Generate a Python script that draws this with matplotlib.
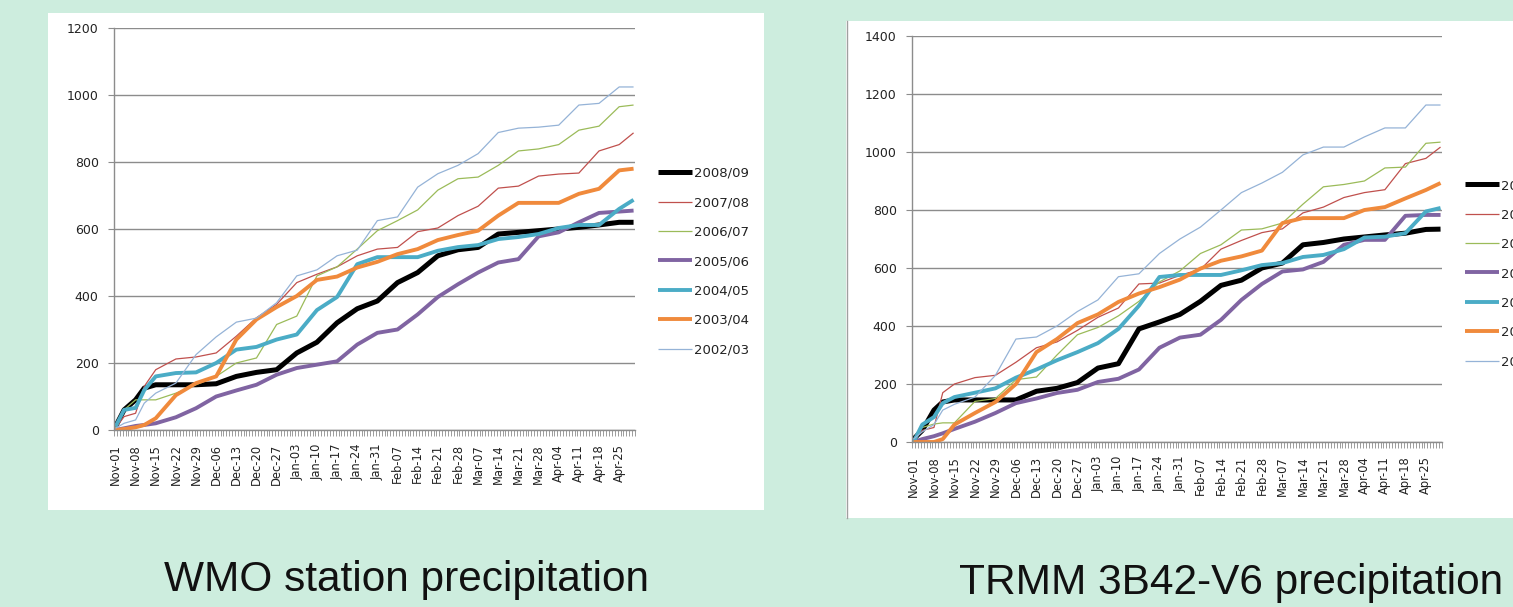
import matplotlib
matplotlib.use("Agg")
import matplotlib.pyplot as plt
from matplotlib.patches import Rectangle
from matplotlib.lines import Line2D

# ---------------- data ----------------
DAYS = [0, 3, 7, 10] + list(range(14, 176, 7)) + [180]
N_DAYS = 181
DATE_LABELS = ["Nov-01", "Nov-08", "Nov-15", "Nov-22", "Nov-29", "Dec-06", "Dec-13",
               "Dec-20", "Dec-27", "Jan-03", "Jan-10", "Jan-17", "Jan-24", "Jan-31",
               "Feb-07", "Feb-14", "Feb-21", "Feb-28", "Mar-07", "Mar-14", "Mar-21",
               "Mar-28", "Apr-04", "Apr-11", "Apr-18", "Apr-25"]
SEASONS = ["2008/09", "2007/08", "2006/07", "2005/06", "2004/05", "2003/04", "2002/03"]

# WMO station precipitation (cumulative, mm)
wmo_2008_09 = [10, 60, 90, 125, 135, 135, 135, 138, 160, 172, 180, 230, 262, 320, 362,
               385, 440, 470, 520, 538, 545, 585, 590, 595, 600, 605, 612, 620, 620]
wmo_2007_08 = [5, 40, 50, 130, 180, 212, 218, 230, 280, 335, 375, 440, 465, 487, 520,
               540, 545, 592, 603, 640, 668, 722, 728, 758, 764, 767, 833, 852, 887]
wmo_2006_07 = [5, 60, 90, 90, 90, 110, 135, 160, 200, 215, 315, 340, 460, 487, 540,
               595, 625, 657, 716, 750, 755, 790, 833, 839, 852, 895, 907, 965, 970]
wmo_2005_06 = [0, 5, 12, 15, 20, 38, 65, 100, 118, 135, 165, 185, 195, 205, 255,
               290, 300, 345, 397, 435, 470, 500, 510, 578, 590, 620, 648, 652, 655]
wmo_2004_05 = [10, 60, 66, 119, 160, 170, 172, 200, 240, 248, 270, 285, 358, 397, 495,
               516, 516, 516, 535, 546, 552, 570, 576, 585, 603, 612, 612, 660, 687]
wmo_2003_04 = [0, 3, 8, 15, 35, 104, 140, 160, 270, 330, 367, 400, 448, 458, 485,
               502, 525, 540, 567, 582, 595, 640, 678, 678, 678, 705, 720, 775, 780]
wmo_2002_03 = [5, 20, 30, 80, 110, 140, 225, 278, 322, 334, 380, 460, 478, 520, 537,
               625, 636, 725, 765, 790, 825, 888, 901, 904, 910, 970, 975, 1024, 1024]

# TRMM 3B42-V6 precipitation (cumulative, mm)
trmm_2008_09 = [10, 40, 110, 138, 145, 145, 145, 145, 175, 185, 205, 255, 270, 390, 414,
                440, 485, 540, 558, 600, 617, 680, 688, 700, 707, 714, 720, 733, 734]
trmm_2007_08 = [10, 40, 50, 170, 200, 222, 230, 275, 325, 345, 385, 430, 462, 545, 548,
                575, 595, 665, 695, 722, 735, 790, 810, 843, 860, 870, 960, 978, 1017]
trmm_2006_07 = [5, 50, 62, 66, 66, 140, 150, 215, 224, 300, 370, 395, 435, 485, 552,
                590, 650, 680, 731, 735, 755, 820, 880, 888, 900, 945, 948, 1030, 1034]
trmm_2005_06 = [0, 10, 20, 30, 45, 70, 100, 134, 150, 169, 180, 207, 218, 250, 325,
                360, 370, 421, 490, 545, 588, 595, 621, 680, 697, 697, 780, 783, 783]
trmm_2004_05 = [0, 60, 86, 134, 155, 170, 185, 222, 250, 282, 310, 341, 390, 470, 569,
                576, 576, 576, 592, 610, 617, 638, 645, 665, 705, 708, 720, 795, 807]
trmm_2003_04 = [0, 0, 0, 10, 60, 100, 138, 200, 310, 355, 410, 440, 483, 512, 534,
                560, 598, 625, 640, 660, 755, 772, 772, 772, 800, 810, 840, 869, 893]
trmm_2002_03 = [10, 35, 60, 110, 130, 155, 230, 355, 362, 400, 450, 490, 570, 580, 650,
                700, 741, 800, 860, 893, 930, 990, 1017, 1017, 1052, 1083, 1083, 1162, 1162]

WMO = [wmo_2008_09, wmo_2007_08, wmo_2006_07, wmo_2005_06, wmo_2004_05, wmo_2003_04, wmo_2002_03]
TRMM = [trmm_2008_09, trmm_2007_08, trmm_2006_07, trmm_2005_06, trmm_2004_05, trmm_2003_04, trmm_2002_03]

# ---------------- style ----------------
COLORS = ["#000000", "#C0504D", "#9BBB59", "#8064A2", "#4BACC6", "#F08A3C", "#95B3D7"]
WIDTHS = [3.6, 0.9, 0.9, 2.8, 2.8, 2.8, 0.9]
BG = "#CDEDDE"
GRID = "#8C8C8C"
W, H = 1513, 607

fig = plt.figure(figsize=(W / 100, H / 100), dpi=100, facecolor=BG)

def fx(px):
    return px / W

def fy(py):
    return 1 - py / H

# white panels (drawn beneath the axes)
fig.patches.append(Rectangle((fx(48), fy(510)), fx(764 - 48), (510 - 13) / H,
                             transform=fig.transFigure, facecolor="white", edgecolor="none", zorder=-2))
fig.patches.append(Rectangle((fx(846), fy(518)), fx(W - 846), (518 - 21) / H,
                             transform=fig.transFigure, facecolor="white", edgecolor="none", zorder=-2))
fig.lines.append(Line2D([fx(846.5), fx(846.5)], [fy(21), fy(518)], transform=fig.transFigure,
                        color="#A0A0A0", lw=1.0, zorder=-1))


def draw(ax, series, ymax, leg_anchor):
    for vals, lab, c, lw in zip(series, SEASONS, COLORS, WIDTHS):
        ax.plot(DAYS, vals, color=c, lw=lw, label=lab, solid_joinstyle="round",
                solid_capstyle="butt")
    ax.set_xlim(-0.5, N_DAYS - 0.5)
    ax.set_ylim(0, ymax)
    ax.set_yticks(range(0, ymax + 1, 200))
    ax.yaxis.grid(True, color=GRID, lw=1.0)
    ax.set_axisbelow(True)
    for s in ["top", "right"]:
        ax.spines[s].set_visible(False)
    for s in ["left", "bottom"]:
        ax.spines[s].set_color(GRID)
        ax.spines[s].set_linewidth(1.0)
    ax.tick_params(axis="y", length=4, width=0.8, color=GRID, pad=7,
                   labelsize=9, labelcolor="#222222")
    ax.set_xticks(range(0, N_DAYS, 7))
    ax.set_xticklabels(DATE_LABELS, rotation=90, fontsize=8.3, color="#222222")
    ax.set_xticks([d - 0.5 for d in range(N_DAYS + 1)], minor=True)
    ax.tick_params(axis="x", which="major", length=0, pad=10)
    ax.tick_params(axis="x", which="minor", length=4, width=0.6, color=GRID)
    ax.set_facecolor("none")
    leg = ax.legend(loc="upper left", bbox_to_anchor=leg_anchor, bbox_transform=fig.transFigure,
                    frameon=False, fontsize=9.5, handlelength=2.6, handletextpad=0.15,
                    labelspacing=1.24, borderpad=0, borderaxespad=0)
    for t in leg.get_texts():
        t.set_color("#222222")


ax1 = fig.add_axes([fx(114), fy(430), fx(635 - 114), (430 - 28) / H])
draw(ax1, WMO, 1200, (fx(658), fy(167)))

ax2 = fig.add_axes([fx(912), fy(442), fx(1442 - 912), (442 - 36) / H])
draw(ax2, TRMM, 1400, (fx(1465), fy(179)))

fig.text(fx(406), fy(591), "WMO station precipitation", ha="center", va="baseline",
         fontsize=30.5, family="Liberation Sans", color="#111111")
fig.text(fx(1231), fy(594), "TRMM 3B42-V6 precipitation", ha="center", va="baseline",
         fontsize=30.5, family="Liberation Sans", color="#111111")

fig.savefig("out.png", dpi=100, facecolor=BG)
